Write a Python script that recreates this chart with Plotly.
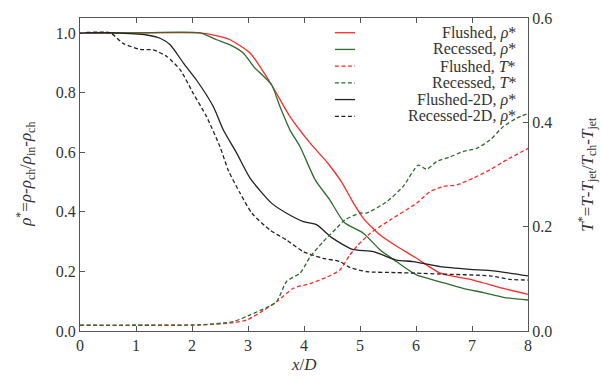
import plotly.graph_objects as go

# Density profiles rho* (left axis)
x_fl_rho = [0, 1.0, 2.14, 2.45, 2.68, 3.04, 3.42, 3.75, 4.11, 4.43, 4.67, 4.85, 5.06, 5.36, 5.65, 6.01, 6.43, 7.02, 7.56, 8.0]
y_fl_rho = [1.0, 1.0, 1.0, 0.99, 0.977, 0.932, 0.826, 0.719, 0.63, 0.562, 0.5, 0.44, 0.378, 0.322, 0.285, 0.244, 0.194, 0.171, 0.143, 0.123]

x_re_rho = [0, 1.0, 2.14, 2.44, 2.68, 2.92, 3.1, 3.42, 3.57, 3.75, 3.93, 4.2, 4.46, 4.72, 5.06, 5.36, 5.65, 6.01, 6.43, 6.84, 7.2, 7.56, 8.0]
y_re_rho = [1.0, 1.0, 1.0, 0.977, 0.96, 0.932, 0.887, 0.826, 0.753, 0.674, 0.618, 0.507, 0.44, 0.364, 0.328, 0.272, 0.233, 0.188, 0.165, 0.143, 0.129, 0.113, 0.104]

x_fl2d_rho = [0, 0.6, 1.19, 1.43, 1.61, 1.85, 2.08, 2.38, 2.56, 2.8, 3.04, 3.42, 3.69, 3.99, 4.23, 4.49, 4.85, 5.24, 5.65, 5.95, 6.43, 6.96, 7.38, 8.0]
y_fl2d_rho = [1.0, 1.0, 0.993, 0.982, 0.96, 0.898, 0.842, 0.753, 0.674, 0.596, 0.512, 0.429, 0.395, 0.367, 0.356, 0.314, 0.275, 0.266, 0.238, 0.233, 0.216, 0.207, 0.202, 0.185]

x_re2d_rho = [0, 0.54, 0.77, 1.07, 1.31, 1.55, 1.79, 2.02, 2.26, 2.5, 2.65, 2.86, 3.07, 3.39, 3.69, 3.99, 4.34, 4.64, 4.82, 5.12, 5.65, 6.01, 6.43, 7.32, 7.68, 8.0]
y_re2d_rho = [1.0, 1.0, 0.965, 0.945, 0.943, 0.921, 0.876, 0.798, 0.719, 0.618, 0.538, 0.462, 0.395, 0.339, 0.305, 0.266, 0.244, 0.233, 0.213, 0.199, 0.196, 0.194, 0.191, 0.185, 0.173, 0.171]

# Temperature profiles T* (right axis)
x_fl_T = [0, 1.0, 2.14, 2.74, 2.98, 3.21, 3.51, 3.81, 4.11, 4.4, 4.64, 4.82, 4.94, 5.18, 5.54, 6.01, 6.25, 6.49, 6.73, 7.02, 7.32, 7.62, 8.0]
y_fl_T = [0.011, 0.011, 0.0115, 0.016, 0.021, 0.035, 0.056, 0.082, 0.091, 0.103, 0.117, 0.146, 0.162, 0.187, 0.213, 0.245, 0.267, 0.277, 0.28, 0.293, 0.309, 0.328, 0.35]

x_re_T = [0, 1.0, 2.14, 2.74, 3.04, 3.33, 3.51, 3.69, 3.93, 4.11, 4.34, 4.58, 4.73, 5.0, 5.12, 5.48, 5.77, 6.04, 6.19, 6.37, 6.61, 6.84, 7.08, 7.32, 7.56, 7.8, 8.0]
y_re_T = [0.011, 0.011, 0.012, 0.018, 0.031, 0.045, 0.056, 0.095, 0.111, 0.142, 0.171, 0.197, 0.213, 0.226, 0.226, 0.248, 0.277, 0.318, 0.31, 0.325, 0.334, 0.344, 0.35, 0.366, 0.392, 0.408, 0.417]

RED = "#ff2a2a"
GREEN = "#2f6b2f"
BLACK = "#222222"
DASH = "4px,2.5px"
FONT = "Liberation Serif"
TXT = "#333333"

series = [
    (x_fl_rho, y_fl_rho, "y", RED, "solid", "Flushed, <i>ρ</i>*"),
    (x_re_rho, y_re_rho, "y", GREEN, "solid", "Recessed, <i>ρ</i>*"),
    (x_fl_T, y_fl_T, "y2", RED, DASH, "Flushed, <i>T</i>*"),
    (x_re_T, y_re_T, "y2", GREEN, DASH, "Recessed, <i>T</i>*"),
    (x_fl2d_rho, y_fl2d_rho, "y", BLACK, "solid", "Flushed-2D, <i>ρ</i>*"),
    (x_re2d_rho, y_re2d_rho, "y", BLACK, DASH, "Recessed-2D, <i>ρ</i>*"),
]

fig = go.Figure()
for xs, ys, ax, color, dash, name in series:
    fig.add_trace(go.Scatter(
        x=xs, y=ys, yaxis=ax, mode="lines", name=name,
        line=dict(color=color, width=1.3, dash=dash, shape="spline", smoothing=0.6),
        showlegend=False,
    ))

# Legend drawn as right-aligned text with a short line sample on the left
row0 = 0.953
step = 0.0534
annotations = []
shapes = []
for i, (_, _, _, color, dash, name) in enumerate(series):
    yy = row0 - i * step
    shapes.append(dict(type="line", xref="paper", yref="paper",
                       x0=0.569, x1=0.614, y0=yy, y1=yy,
                       line=dict(color=color, width=1.3, dash=dash)))
    annotations.append(dict(xref="paper", yref="paper", x=0.978, y=yy,
                            text=name, showarrow=False, xanchor="right", yanchor="middle",
                            font=dict(family=FONT, size=16, color=TXT)))

# Axis titles
title_font = dict(family=FONT, size=17, color=TXT)
annotations.append(dict(xref="paper", yref="paper", x=0.5, y=-0.108,
                        text="<i>x</i>/<i>D</i>", showarrow=False,
                        xanchor="center", yanchor="middle", font=title_font))
annotations.append(dict(xref="paper", yref="paper", x=-0.122, y=0.5,
                        text="<i>ρ</i><sup>*</sup>=<i>ρ</i>-<i>ρ</i><sub>ch</sub>/<i>ρ</i><sub>in</sub>-<i>ρ</i><sub>ch</sub>",
                        showarrow=False, textangle=-90,
                        xanchor="center", yanchor="middle", font=title_font))
annotations.append(dict(xref="paper", yref="paper", x=1.132, y=0.5,
                        text="<i>T</i><sup>*</sup>=<i>T</i>-<i>T</i><sub>jet</sub>/<i>T</i><sub>ch</sub>-<i>T</i><sub>jet</sub>",
                        showarrow=False, textangle=-90,
                        xanchor="center", yanchor="middle", font=title_font))

axis_common = dict(
    showline=True, linecolor="#555555", linewidth=1.2,
    ticks="inside", ticklen=5, tickcolor="#555555",
    showgrid=False, zeroline=False, automargin=False,
    tickfont=dict(family=FONT, size=16, color=TXT),
)

fig.update_layout(
    width=601, height=381,
    margin=dict(l=80, r=73, t=18, b=50),
    paper_bgcolor="white", plot_bgcolor="white",
    font=dict(family=FONT, color=TXT),
    xaxis=dict(range=[0, 8], tickvals=list(range(0, 9)), mirror="ticks", **axis_common),
    yaxis=dict(range=[0, 1.05], tickvals=[0, 0.2, 0.4, 0.6, 0.8, 1.0], tickformat=".1f",
               **axis_common),
    yaxis2=dict(range=[0, 0.6], tickvals=[0, 0.2, 0.4, 0.6], tickformat=".1f",
                overlaying="y", side="right", **axis_common),
    annotations=annotations,
    shapes=shapes,
)

fig.write_html("out.html")
